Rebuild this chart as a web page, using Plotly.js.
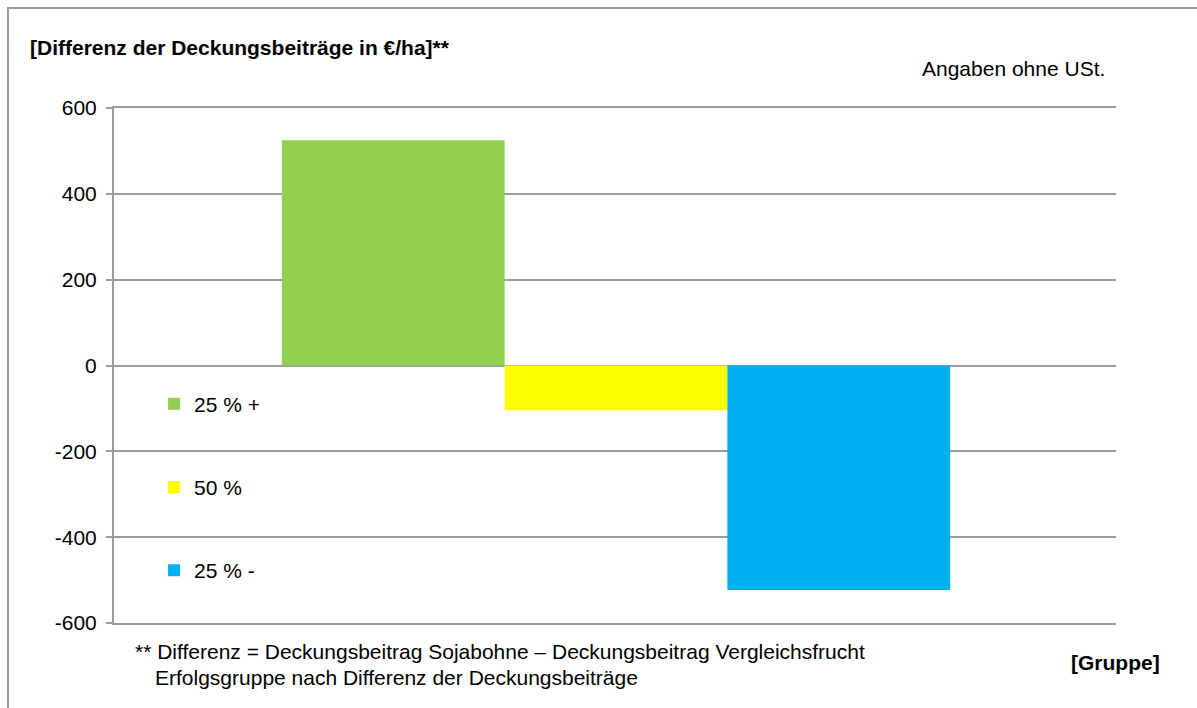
<!DOCTYPE html>
<html>
<head>
<meta charset="utf-8">
<script src="https://cdn.plot.ly/plotly-3.0.1.min.js"></script>
<style>
  html, body { margin: 0; padding: 0; background: #fff; }
  #wrap { position: relative; width: 1197px; height: 708px; overflow: hidden; }
  #chart { position: absolute; left: 0; top: 0; width: 1197px; height: 708px; }
  #frame { position: absolute; left: 7px; top: 7px; width: 1300px; height: 900px;
           border-left: 2px solid #9a9a9a; border-top: 2px solid #9a9a9a; pointer-events: none; }
</style>
</head>
<body>
<div id="wrap">
  <div id="chart"></div>
  <div id="frame"></div>
</div>
<script>
const category = ['Gruppe'];
const seriesNames = ['25 % +', '50 %', '25 % -'];
const seriesValues = [525, -104, -523];
const seriesColors = ['#92D050', '#FFFF00', '#00B0F0'];
const yTicks = [-600, -400, -200, 0, 200, 400, 600];

const traces = seriesNames.map((name, i) => ({
  type: 'bar',
  name: name,
  x: category,
  y: [seriesValues[i]],
  marker: { color: seriesColors[i], line: { width: 0 } },
  legendgroup: 'g' + i,
  hoverinfo: 'name+y'
}));

const font = "Liberation Sans, Arial, sans-serif";
const fs = 21;
const gridCol = '#9c9c9c';

const layout = {
  width: 1197,
  height: 708,
  margin: { l: 114, r: 81, t: 108, b: 85 },
  paper_bgcolor: '#ffffff',
  plot_bgcolor: '#ffffff',
  font: { family: font, size: fs, color: '#000000' },
  barmode: 'group',
  bargap: 0.333,
  bargroupgap: 0,
  showlegend: true,
  legend: {
    x: 0.04, xanchor: 'left',
    y: 0.465, yanchor: 'top',
    bgcolor: 'rgba(0,0,0,0)',
    traceorder: 'grouped',
    tracegroupgap: 53,
    itemwidth: 30,
    font: { family: font, size: fs, color: '#000' }
  },
  title: {
    text: '<b>[Differenz der Deckungsbeiträge in €/ha]**</b>',
    x: 30 / 1197, xanchor: 'left', xref: 'container',
    y: 1 - 48 / 708, yanchor: 'middle', yref: 'container',
    font: { family: font, size: fs, color: '#000' }
  },
  xaxis: {
    type: 'category',
    range: [-0.501, 0.499],
    showticklabels: false,
    showgrid: false,
    zeroline: false,
    showline: true,
    mirror: true,
    linecolor: gridCol,
    linewidth: 2,
    ticks: '',
    fixedrange: true
  },
  yaxis: {
    range: [-600, 600],
    tickvals: yTicks,
    ticktext: yTicks.map(String),
    showgrid: true,
    gridcolor: gridCol,
    gridwidth: 2,
    zeroline: true,
    zerolinecolor: gridCol,
    zerolinewidth: 2,
    showline: true,
    linecolor: gridCol,
    linewidth: 2,
    ticks: 'outside',
    ticklen: 6,
    tickcolor: gridCol,
    tickwidth: 2,
    ticklabelstandoff: 5,
    tickfont: { family: font, size: fs, color: '#000' },
    fixedrange: true
  },
  annotations: [
    {
      text: 'Angaben ohne USt.',
      xref: 'paper', yref: 'paper',
      x: (1107 - 114) / 1002, xanchor: 'right',
      y: 1 + (108 - 69) / 515, yanchor: 'middle',
      showarrow: false,
      font: { family: font, size: fs, color: '#000' }
    },
    {
      text: '<b>[Gruppe]</b>',
      xref: 'paper', yref: 'paper',
      x: (1162 - 114) / 1002, xanchor: 'right',
      y: -(662 - 623) / 515, yanchor: 'middle',
      showarrow: false,
      font: { family: font, size: fs, color: '#000' }
    },
    {
      text: '** Differenz = Deckungsbeitrag Sojabohne – Deckungsbeitrag Vergleichsfrucht',
      xref: 'paper', yref: 'paper',
      x: (133 - 114) / 1002, xanchor: 'left',
      y: -(652 - 623) / 515, yanchor: 'middle',
      showarrow: false,
      font: { family: font, size: fs, color: '#000' }
    },
    {
      text: 'Erfolgsgruppe nach Differenz der Deckungsbeiträge',
      xref: 'paper', yref: 'paper',
      x: (153 - 114) / 1002, xanchor: 'left',
      y: -(677 - 623) / 515, yanchor: 'middle',
      showarrow: false,
      font: { family: font, size: fs, color: '#000' }
    }
  ]
};

Plotly.newPlot('chart', traces, layout, { displayModeBar: false, staticPlot: true });
</script>
</body>
</html>
